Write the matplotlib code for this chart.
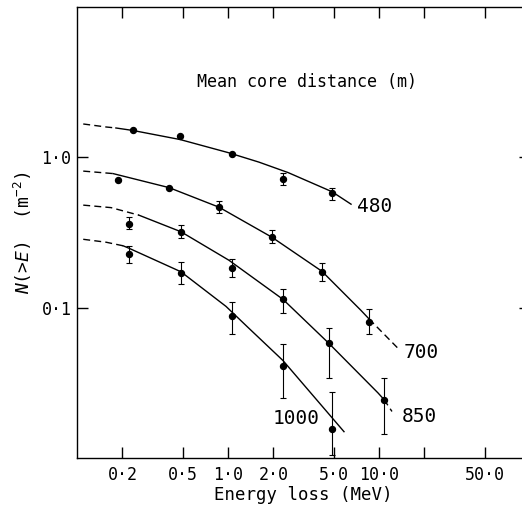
import numpy as np
import matplotlib
matplotlib.use("Agg")
import matplotlib.pyplot as plt

plt.rcParams["font.family"] = ["DejaVu Sans Mono", "DejaVu Sans"]
plt.rcParams["mathtext.fontset"] = "custom"
plt.rcParams["mathtext.rm"] = "DejaVu Sans Mono"
plt.rcParams["mathtext.it"] = "DejaVu Sans Mono:italic"

nan = np.nan

# measured points (energy loss in MeV, N(>E) in m^-2), error bar ends (nan = no bar)
e480 = [0.234, 0.479, 1.06, 2.32, 4.88]
n480 = [1.52, 1.38, 1.05, 0.717, 0.578]
lo480 = [nan, nan, nan, 0.657, 0.519]
hi480 = [nan, nan, nan, 0.786, 0.627]

e700 = [0.186, 0.409, 0.876, 1.955, 4.19, 8.62]
n700 = [0.709, 0.627, 0.464, 0.294, 0.174, 0.0806]
lo700 = [nan, nan, 0.425, 0.271, 0.150, 0.0664]
hi700 = [nan, nan, 0.514, 0.328, 0.1995, 0.0974]

e850 = [0.222, 0.488, 1.06, 2.30, 4.69, 10.8]
n850 = [0.363, 0.319, 0.183, 0.1136, 0.0584, 0.0245]
lo850 = [0.333, 0.290, 0.160, 0.0916, 0.0341, 0.0145]
hi850 = [0.398, 0.354, 0.210, 0.1324, 0.0736, 0.0341]

e1000 = [0.222, 0.488, 1.06, 2.30, 4.86]
n1000 = [0.2284, 0.171, 0.0879, 0.0408, 0.0156]
lo1000 = [0.1995, 0.1445, 0.0664, 0.0249, 0.0105]
hi1000 = [0.2575, 0.2014, 0.1096, 0.0569, 0.0274]

# fitted curves
c480_e = [0.11, 0.156, 0.181, 0.235, 0.481, 1.0, 1.6, 2.5, 4.88, 6.53]
c480_n = [1.667, 1.592, 1.568, 1.509, 1.314, 1.076, 0.93, 0.792, 0.591, 0.488]
c700_e = [0.11, 0.173, 0.407, 0.872, 1.956, 4.19, 7.60, 8.59, 13.6]
c700_n = [0.81, 0.78, 0.629, 0.466, 0.294, 0.1746, 0.0959, 0.0842, 0.0527]
c850_e = [0.11, 0.168, 0.257, 0.488, 1.015, 2.313, 4.665, 9.85, 10.79, 12.19]
c850_n = [0.481, 0.463, 0.4125, 0.320, 0.2067, 0.1136, 0.0578, 0.0271, 0.0245, 0.0204]
c1000_e = [0.11, 0.156, 0.202, 0.221, 0.488, 0.970, 1.357, 2.313, 5.865]
c1000_n = [0.285, 0.2725, 0.258, 0.2485, 0.1733, 0.102, 0.0739, 0.0445, 0.01497]

# (curve, number of dashed head points, index where dashed tail starts)
curves = [
    (c480_e, c480_n, 3, None),
    (c700_e, c700_n, 2, 7),
    (c850_e, c850_n, 3, 8),
    (c1000_e, c1000_n, 3, None),
]
series = [
    (e480, n480, lo480, hi480),
    (e700, n700, lo700, hi700),
    (e850, n850, lo850, hi850),
    (e1000, n1000, lo1000, hi1000),
]

xticks = [0.2, 0.5, 1.0, 2.0, 5.0, 10.0, 20.0, 50.0]
xticklabels = ["0·2", "0·5", "1·0", "2·0", "5·0", "10·0", "", "50·0"]
yticks = [0.1, 1.0]
yticklabels = ["0·1", "1·0"]

fig = plt.figure(figsize=(5.22, 5.08), dpi=100)
ax = fig.add_axes([0.1475, 0.0984, 0.8678, 0.8878])
ax.set_xscale("log")
ax.set_yscale("log")
ax.set_xlim(0.1, 100)
ax.set_ylim(0.01, 10)

dash = (0, (5, 3))
for ce, cn, head, tail in curves:
    ax.plot(ce[:head], cn[:head], color="black", lw=1.0, linestyle=dash)
    end = tail + 1 if tail is not None else len(ce)
    ax.plot(ce[head - 1:end], cn[head - 1:end], color="black", lw=1.0)
    if tail is not None:
        ax.plot(ce[tail:], cn[tail:], color="black", lw=1.0, linestyle=dash)

for e, n, lo, hi in series:
    e = np.array(e); n = np.array(n); lo = np.array(lo); hi = np.array(hi)
    m = ~np.isnan(lo)
    ax.errorbar(e[m], n[m], yerr=[n[m] - lo[m], hi[m] - n[m]], fmt="none",
                ecolor="black", elinewidth=0.8, capsize=2.5, capthick=0.8)
    ax.plot(e, n, "o", color="black", markersize=4.3)

ax.text(9.3, 0.47, "480", fontsize=14, ha="center", va="center")
ax.text(19.0, 0.0503, "700", fontsize=14, ha="center", va="center")
ax.text(18.4, 0.01885, "850", fontsize=14, ha="center", va="center")
ax.text(2.82, 0.01828, "1000", fontsize=14, ha="center", va="center")
ax.text(3.34, 3.18, "Mean core distance (m)", fontsize=12, ha="center", va="center")

ax.set_xticks(xticks)
ax.set_xticklabels(xticklabels)
ax.set_yticks(yticks)
ax.set_yticklabels(yticklabels)
ax.minorticks_off()
ax.tick_params(axis="both", which="major", direction="in", length=8, width=1.0,
               top=True, right=True, labelsize=12)
ax.tick_params(axis="x", pad=6)
ax.tick_params(axis="y", pad=4)
ax.spines["right"].set_visible(False)
for s in ["left", "bottom", "top"]:
    ax.spines[s].set_linewidth(1.0)

ax.set_xlabel("Energy loss (MeV)", fontsize=12.5, labelpad=1)
ax.set_ylabel(r"$N$(>$E$)  (m$^{-2}$)", fontsize=13, labelpad=5)

fig.savefig("out.png", dpi=100, facecolor="white")
